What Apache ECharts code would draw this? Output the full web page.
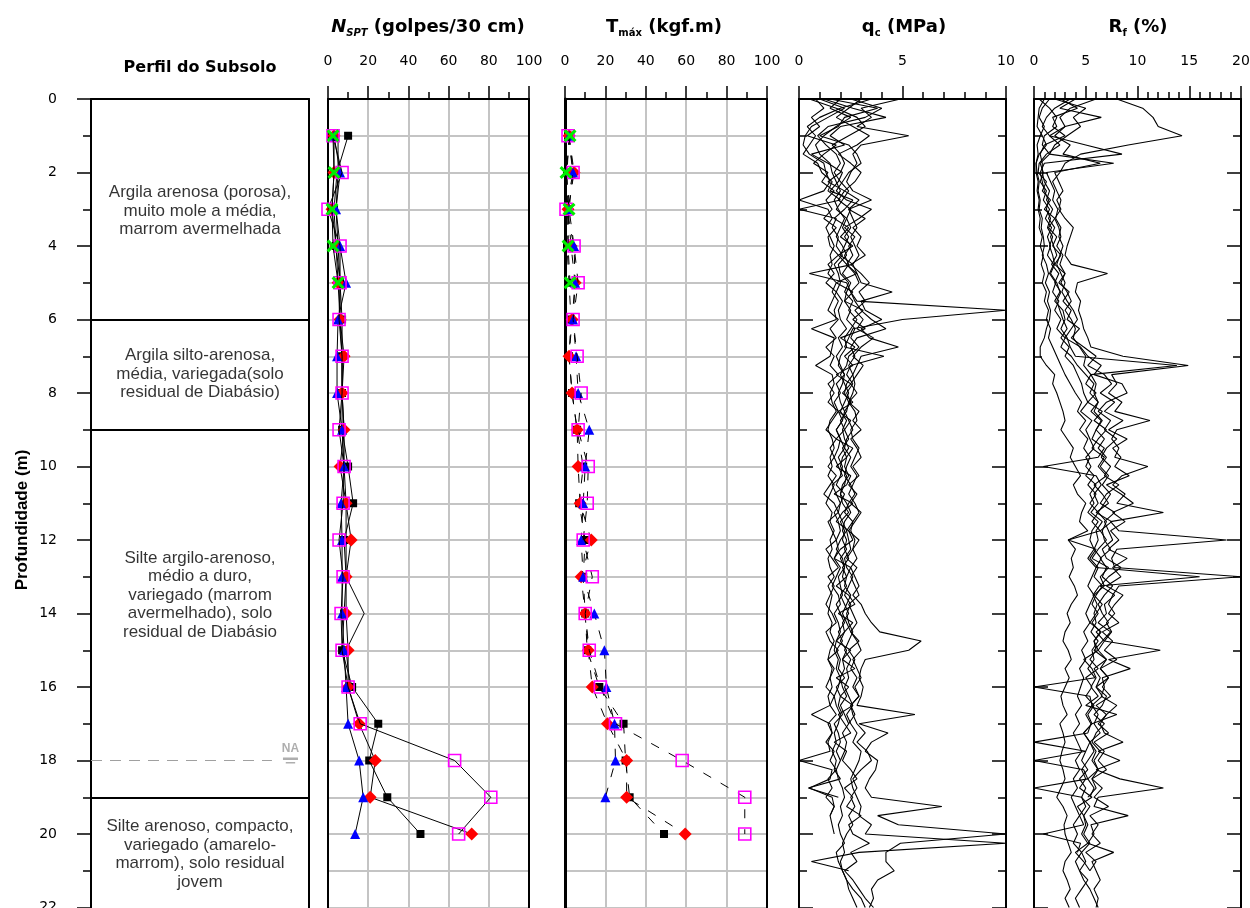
<!DOCTYPE html>
<html><head><meta charset="utf-8">
<script src="https://cdn.jsdelivr.net/npm/echarts@6/dist/echarts.min.js"></script>
<style>html,body{margin:0;padding:0;background:#fff}#c{width:1250px;height:908px}</style>
</head><body><div id="c"></div>
<script>
// ---------------- DATA ----------------
const depthTicks = [0, 2, 4, 6, 8, 10, 12, 14, 16, 18, 20, 22];
const layerBounds = [6, 9, 19];
const layerLabelDepth = [3.05, 7.48, 13.5, 20.55];
const layerNames = [
  'Argila arenosa (porosa),\nmuito mole a média,\nmarrom avermelhada',
  'Argila silto-arenosa,\nmédia, variegada(solo\nresidual de Diabásio)',
  'Silte argilo-arenoso,\nmédio a duro,\nvariegado (marrom\navermelhado), solo\nresidual de Diabásio',
  'Silte arenoso, compacto,\nvariegado (amarelo-\nmarrom), solo residual\njovem'
];
const naDepth = 18;

const depthSPT = [1,2,3,4,5,6,7,8,9,10,11,12,13,14,15,16,17,18,19,20];
// NSPT (golpes/30 cm)
const nsptBlack   = [10, 4.5, 3, 4, 6, 7, 7, 7, 7, 10, 12.5, 8, 9, 8, 7, 12, 25, 20.5, 29.5, 46];
const nsptRed     = [3, 3, 2, 4, 5, 6, 8, 7, 8, 6, 9, 11.5, 9, 9, 10, 10, 15.5, 23.5, 21, 71.5];
const nsptBlue    = [3, 6, 4, 6, 9, 5, 4.5, 4.5, 7, 8, 6.5, 7, 7, 7, 8, 9, 10, 15.5, 17.5, 13.5];
const nsptMagenta = [2.5, 7, 0, 6, 6, 5.5, 7, 7, 5.5, 8, 7.5, 5.5, 7.5, 6.5, 7, 10, 16, 63, 81, 65];
const nsptGreen   = [2.5, 3, 2, 2.5, 5];
const nsptExtra   = [5, 5, 4, 5, 6, 6, 7, 7, 8, 8, 9, 9, 9, 18, 9, 11];
// Tmax (kgf.m)
const tBlack   = [2, 1, 1.5, 1, 2, 3, 2, 3.5, 6, 9, 7, 10, 9, 10, 11, 17, 29, 30, 32, 49];
const tRed     = [2, 4.5, 1.5, 3, 5, 3.5, 2, 3.5, 6, 6.5, 7.5, 13, 8, 10, 11.5, 13.5, 21, 30.5, 30.5, 59.5];
const tBlue    = [2, 4, 2, 4.5, 5, 4, 5.5, 6.5, 12, 10, 9, 8, 9, 14.5, 19.5, 20.5, 24.5, 25, 20];
const tMagenta = [1.5, 4, 0.5, 4.5, 6.5, 4, 6, 8, 6.5, 11.5, 11, 9, 13.5, 10, 12, 17.5, 25, 58, 89, 89];
const tGreen   = [2.5, 0.5, 2, 1.5, 2.5];

const depthCPT = [0,0.25,0.5,0.75,1,1.25,1.5,1.75,2,2.25,2.5,2.75,3,3.25,3.5,3.75,4,4.25,4.5,4.75,5,5.25,5.5,5.75,6,6.25,6.5,6.75,7,7.25,7.5,7.75,8,8.25,8.5,8.75,9,9.25,9.5,9.75,10,10.25,10.5,10.75,11,11.25,11.5,11.75,12,12.25,12.5,12.75,13,13.25,13.5,13.75,14,14.25,14.5,14.75,15,15.25,15.5,15.75,16,16.25,16.5,16.75,17,17.25,17.5,17.75,18,18.25,18.5,18.75,19,19.25,19.5,19.75,20,20.25,20.5,20.75,21,21.25,21.5,21.75,22];
// qc (MPa)
const qc1 = [2.0,1.5,2.5,1.8,1.2,0.8,1.0,1.5, 1.6,1.8,2.0,1.7,1.9,2.2,2.0,1.8, 2.1,2.3,1.9,2.0,2.4,2.2,2.6,2.4, 2.8,2.5,2.2,2.3,2.0,1.9,2.2,2.1,
  1.9,2.0,2.2,2.1,1.8,2.0,2.2,1.9, 2.1,2.0,1.8,2.2,2.0,1.9,2.1,2.3, 2.0,1.8,2.1,2.2,1.9,2.0,2.1,1.8, 2.0,2.2,1.9,2.1,1.8,2.0,1.9,2.2,
  1.8,2.0,1.9,2.1,1.7,1.9,2.0,1.8, 2.0,1.8,1.9,2.1,2.2,2.0,2.1,1.9, 2.0,2.2,1.8,1.9,2.1,2.3,2.4,2.6, 2.8];
const qc2 = [1.0,2.2,1.4,0.6,0.3,0.2,0.5,1.2, 1.3,1.5,1.2,0.0,1.4,1.6,1.3,1.5, 1.7,1.5,1.6,1.4,1.8,1.6,1.9,1.7, 1.8,0.6,1.7,1.6,1.5,0.8,1.6,1.7,
  1.5,1.6,1.8,1.5,1.4,1.6,1.7,1.5, 1.6,1.4,1.7,1.5,1.3,1.6,1.5,1.7, 1.5,1.6,1.4,1.5,1.7,1.4,1.6,1.5, 1.4,1.6,1.5,1.7,1.5,1.4,1.6,1.5,
  1.6,1.4,1.5,0.6,1.5,1.6,1.4,1.5, 0.0,1.6,1.5,0.5,1.6,1.7,1.5,1.6, 1.7];
const qc3 = [4.9,3.0,3.5,2.8,5.3,3.0,2.6,2.8, 2.5,2.3,2.6,3.5,2.4,2.6,2.8,2.5, 2.7,2.9,2.6,2.8,3.0,4.5,3.0,3.2, 4.0,3.0,3.4,4.8,3.0,2.8,2.6,2.7,
  2.6,2.4,2.7,2.8,2.5,2.6,2.9,2.7, 2.5,2.8,2.6,2.4,2.7,2.9,2.6,2.5, 2.7,2.6,2.8,2.5,2.7,2.9,2.6,3.0, 3.2,3.5,3.9,5.9,5.3,3.2,3.0,2.9,
  3.1,3.0,2.8,5.6,2.9,4.3,3.5,3.2, 3.8,3.7,3.4,3.2,3.5,6.9,3.8,4.8, 10.0,4.9,4.2,4.2,4.6,3.8,3.5,3.6, 3.4];
const qc4 = [0.5,1.8,2.8,3.2,2.4,1.6,2.0,2.2, 2.0,1.4,2.2,1.9,2.5,2.3,2.1,2.4, 2.2,2.0,2.6,0.5,2.3,2.5,2.8,10.0, 5.0,2.6,2.4,2.2,4.1,2.5,2.3,2.6,
  2.3,2.5,2.2,2.4,2.6,2.3,2.2,2.5, 2.3,2.2,2.5,2.7,2.4,2.2,2.6,2.3, 2.4,2.5,2.2,2.3,2.6,2.4,2.2,2.5, 2.3,2.4,2.6,2.4,2.2,2.5,2.3,2.4,
  2.2,2.4,2.6,2.3,2.5,2.8,2.6,3.0, 2.9,2.7,2.5,2.6,2.8,3.0,2.9,3.5, 3.2,10.0,2.9,0.6,2.4];
const qc5 = [3.5,2.0,1.0,0.4,0.8,0.5,0.2,0.9, 1.1,1.6,1.4,2.0,0.0,1.8,1.6,1.9, 1.8,2.1,1.7,1.9,2.0,1.8,2.1,1.9, 2.0,2.3,1.9,2.1,1.8,2.0,2.2,1.8,
  2.0,1.7,1.9,2.1,1.8,2.0,1.9,1.7, 1.9,2.1,1.6,1.8,2.0,1.7,1.9,2.0, 1.8,1.9,1.7,2.0,1.8,1.6,1.9,2.0, 1.7,1.9,2.0,1.8,1.7,1.9,1.8,2.0,
  1.9,1.7,1.8,2.0,1.9,1.7,1.8,1.6, 1.8,1.7,2.0,0.45,1.9];
const qc6 = [1.5,3.8,2.2,1.9,1.0,2.4,2.8,3.0, 2.4,2.1,1.8,2.3,3.5,2.9,2.2,2.7, 2.4,2.6,2.3,2.7,2.9,2.5,2.7,3.0, 3.5,4.2,2.8,2.5,2.7,2.4,2.6,2.3,
  2.2,2.4,2.3,2.0,2.2,2.4,2.1,2.3, 2.2,2.4,2.1,2.0,2.3,2.5,2.2,2.1, 2.3,2.2,2.4,2.1,2.3,2.2,2.5,2.3, 2.1,2.3,2.5,2.8,3.0,2.6,2.8,3.0,
  2.7,2.9,2.5,2.6,2.8,3.2,2.8,3.3, 3.5,3.0,2.6,2.8,2.5,2.7,2.4,2.6, 2.3,2.1,2.2,2.0,2.1,2.3,2.6,3.0, 3.2];
const qc7 = [2.5,4.0,3.2,1.4,0.9,1.3,1.8,2.0, 1.7,2.0,2.4,2.1,1.8,2.3,2.5,2.2, 2.5,2.2,2.4,2.1,2.5,2.3,2.2,2.5, 2.3,2.7,2.5,2.9,2.4,2.3,2.0,2.2,
  2.4,2.2,2.0,2.3,2.1,2.2,2.4,2.1, 2.0,2.3,2.2,2.0,2.1,2.4,2.0,2.2, 2.1,2.3,2.0,2.2,2.1,2.3,2.0,2.2, 2.4,2.1,2.2,2.0,2.3,2.1,2.2,2.0,
  2.1,2.3,2.0,2.2,2.4,2.1,2.3,2.2, 2.0];
const qc8 = [1.2,2.6,4.2,2.0,1.5,2.2,0.6,1.4, 2.1,1.9,1.5,2.6,2.2,1.7,2.4,2.0, 2.6,1.9,2.3,2.8,1.8,2.6,2.2,3.1, 2.6,3.2,2.0,2.7,2.2,2.6,1.8,2.5,
  2.1,2.6,1.9,2.5,2.2,1.8,2.6,2.3, 1.8,2.5,2.3,1.7,2.6,2.1,1.8,2.4, 2.6,2.0,1.7,2.5,2.3,1.8,2.4,2.7, 1.9,2.6,2.2,1.8,2.5,2.1,2.7,1.8,
  2.4,2.0,2.6,1.9,2.2,2.5,1.7,2.3, 2.1,2.5,2.8,2.2,2.6,2.3,3.0,2.4, 2.6,3.4,2.5,2.8,2.2,2.6,2.9,3.2, 3.6];
const qc9 = [0.8,1.2,0.6,1.0,0.4,1.8,1.2,0.7, 1.4,1.1,1.7,1.3,1.6,1.2,1.8,1.4, 1.5,1.9,1.4,1.7,1.3,1.8,1.6,1.4, 1.9,1.5,1.8,1.3,1.7,1.5,1.9,1.4,
  1.7,1.4,1.9,1.6,1.3,1.8,1.5,1.7, 1.4,1.8,1.5,1.2,1.7,1.9,1.4,1.6, 1.8,1.3,1.6,1.9,1.4,1.7,1.5,1.3, 1.6,1.8,1.3,1.5,1.9,1.4,1.7,1.5,
  1.3,1.7,1.5,1.8,1.4,1.6,1.3,1.7, 1.5,1.8,1.4,1.6,1.3,1.7,1.5];
const qc10 = [3.0,2.4,1.8,2.6,3.4,2.8,1.9,2.5, 3.0,2.7,2.2,2.9,2.4,3.2,2.6,3.0, 2.8,3.2,2.5,3.0,3.4,2.9,3.2,2.7, 3.1,2.8,3.6,3.0,2.6,3.1,2.8,2.5,
  2.8,2.4,2.9,2.6,3.0,2.5,2.8,3.0, 2.6,2.9,2.4,2.8,2.5,3.0,2.7,2.4, 2.9,2.6,2.3,2.8,2.5,2.7,2.9,2.4, 2.6,2.8,2.5,2.9,2.4,2.7,2.5,2.8,
  2.6,2.9,2.5,2.7,2.4];
// Rf (%)
const rf1 = [8.0,10.5,11.5,12.0,14.3,9.1,4.5,3.0, 2.5,1.8,2.2,2.6,2.4,3.0,3.8,3.5, 3.2,3.0,3.6,7.1,4.2,4.0,4.5,4.3, 4.6,4.8,5.2,5.5,8.6,14.9,7.5,8.0,
  7.2,8.5,7.8,11.2,8.0,7.5,8.2,7.8, 11.0,8.5,7.6,8.8,8.0,12.5,7.4,8.2, 18.6,8.0,7.5,7.8,20.0,8.2,7.6,7.2, 7.8,7.0,7.5,6.8,12.2,7.2,9.3,6.6,
  6.8,6.5,8.0,7.0,6.4,6.8,8.6,6.2, 8.3,6.0,8.3,12.5,6.2,5.8,9.1,5.5, 5.8,5.2,7.7,5.6,6.0,6.4,5.8,6.2, 6.0];
const rf2 = [3.5,2.0,1.2,0.8,1.5,5.0,8.5,1.0, 0.6,0.8,1.0,1.4,1.2,1.6,1.3,1.8, 1.5,1.8,2.0,1.6,2.2,2.5,2.0,2.8, 3.0,2.6,3.2,3.5,4.0,13.8,5.5,6.0,
  5.8,6.2,5.5,6.5,6.0,5.6,6.8,6.2, 0.9,6.0,6.5,5.8,6.2,5.5,6.6,6.0, 6.2,5.8,6.5,6.0,16.0,6.3,5.7,6.1, 5.8,6.0,5.5,6.2,5.6,5.8,5.2,5.9,
  0.0,5.4,5.6,5.0,5.5,5.2,0.0,5.0, 0.0,4.8,5.2,0.0,4.6,5.0,4.4,4.8, 0.9,4.5,4.2];
const rf3 = [1.0,0.5,0.4,0.3,0.8,1.2,0.5,0.2, 0.3,0.5,0.4,0.6,0.5,0.8,0.7,0.9, 1.0,0.8,1.2,1.4,1.1,1.5,1.3,1.6, 1.5,1.2,1.0,0.6,0.6,1.2,2.0,1.8,
  2.2,2.5,2.8,3.0,2.6,3.2,3.8,3.5, 4.0,4.5,3.8,4.2,5.0,4.6,4.4,5.2, 3.3,4.0,3.6,3.8,3.4,3.9,4.2,3.6, 3.2,3.5,3.0,2.8,3.3,3.6,3.0,3.4,
  3.0,2.6,2.8,3.2,2.5,2.8,3.0,2.7, 2.5,2.8,3.0,2.6,2.2,2.8,3.2,2.9, 3.0,3.3,3.6,3.0,2.8,3.2,3.5,3.0, 3.4];
const rf4 = [6.0,3.5,2.5,3.0,2.0,3.5,2.8,6.4, 2.0,2.4,2.8,2.2,2.6,2.0,2.4,2.6, 2.2,2.8,2.5,3.0,2.6,3.2,3.6,3.0, 3.6,4.0,3.8,4.4,5.0,4.8,5.5,5.0,
  6.0,5.2,6.6,5.8,7.0,6.2,5.6,6.8, 6.2,7.0,5.8,6.6,7.2,6.0,7.5,6.4, 7.0,6.2,5.6,7.2,6.4,6.8,5.8,6.6, 6.0,5.4,6.5,5.8,6.2,4.8,5.6,6.0,
  5.5,6.2,5.0,8.0,5.6,4.8,5.4,5.8, 5.2,4.6,5.0,4.4,5.6,4.2,4.8,5.0, 4.6,5.2,4.0,4.8,5.4];
const rf5 = [2.0,5.0,3.8,4.5,3.2,2.0,1.5,7.7, 1.2,1.6,2.0,1.8,2.3,2.1,2.6,2.4, 2.8,2.5,2.2,2.6,3.0,2.7,3.2,3.8, 4.2,3.6,3.0,4.5,5.2,6.5,5.8,8.5,
  9.0,7.0,6.2,7.4,6.8,8.0,7.0,6.5, 7.4,6.8,8.2,7.0,6.4,7.8,6.8,7.2, 7.6,6.6,7.0,8.4,7.2,6.4,7.8,6.8, 7.0,6.2,7.4,6.6,5.8,7.0,6.4,7.2,
  6.0,7.0,6.6,5.8,6.8,6.0,5.6,6.4, 5.8,6.2,5.6,6.0,5.2];
const rf6 = [0.5,1.5,2.2,1.8,3.0,1.0,0.6,0.8, 0.8,1.0,1.5,1.2,1.8,1.4,2.0,1.6, 1.9,2.2,1.7,2.4,2.0,2.6,2.2,2.5, 2.8,3.2,2.6,3.4,3.0,3.8,4.2,4.6,
  4.8,5.2,4.5,5.6,5.0,5.4,5.8,5.0, 5.5,5.0,6.0,5.4,5.8,5.2,6.2,5.6, 5.4,5.8,5.2,6.0,5.6,5.2,5.8,5.4, 5.0,5.4,4.8,5.2,4.6,5.0,4.4,4.8,
  4.5,4.2,4.6,4.0,4.4,3.8,4.2,4.6, 4.0,4.4,3.8,4.2,3.6,4.0,4.4,3.8, 4.2,3.8,4.6,4.0,4.4,4.8,5.4,5.8, 6.2];
const rf7 = [4.0,2.5,6.5,3.0,1.5,2.5,1.2,0.5, 0.4,1.2,0.8,1.6,1.0,2.0,1.4,2.2, 1.8,2.6,2.0,3.0,2.4,3.4,2.8,3.6, 3.2,4.4,3.6,4.8,6.0,5.2,6.8,7.5,
  6.4,7.8,6.8,8.6,7.2,9.0,7.6,8.4, 7.8,9.2,7.0,8.4,9.6,7.6,8.8,7.4, 8.2,7.2,9.0,7.6,8.4,7.0,8.6,7.8, 7.2,8.2,6.6,7.6,6.8,8.0,6.4,7.2,
  6.6,7.4,6.0,7.0,6.2,7.2,5.8,6.8, 6.2,7.0,5.6,6.6,5.8,7.2,5.4,6.2, 5.6,6.4,5.0,6.0,5.4];
const rf8 = [1.5,0.8,0.5,1.0,0.6,0.3,0.4,0.2, 0.2,0.4,0.3,0.5,0.4,0.6,0.5,0.8, 0.6,0.9,0.7,1.0,0.8,1.2,1.0,1.4, 1.2,1.6,1.4,1.8,2.2,2.6,3.0,3.5,
  4.0,4.6,4.2,5.0,4.4,5.2,4.8,5.4, 5.0,5.8,5.2,6.0,5.4,6.2,5.6,6.4, 3.3,6.0,5.4,6.2,5.8,6.6,6.0,5.6, 6.2,5.6,6.4,5.8,6.0,5.4,6.2,5.0,
  5.6,5.0,5.8,5.2,5.6,4.8,5.4,5.0, 4.6,5.2,4.4,5.0,4.6,5.4,4.8,5.2, 4.8,5.4,4.6,5.0,4.4,5.2,4.6,4.0, 4.4];
const rf9 = [2.6,4.2,1.8,2.2,1.0,0.8,1.5,0.6, 0.9,0.6,1.2,0.9,1.5,1.1,1.7,1.3, 1.6,1.3,1.9,1.5,2.1,1.8,2.4,2.0, 2.6,2.2,3.0,2.6,3.6,4.2,5.0,5.8,
  5.4,6.2,5.8,6.6,6.0,6.8,6.2,7.0, 6.4,7.2,6.6,7.4,6.8,6.2,7.0,6.6, 6.8,7.4,6.4,7.0,6.6,7.6,6.8,6.2, 6.6,7.2,6.0,6.8,6.2,7.0,5.8,6.4,
  6.0,6.6,5.6,6.2,5.8,6.4,5.4,6.0, 5.6,6.2,5.2,5.8,5.4];

// ---------------- CHART ----------------
const chart = echarts.init(document.getElementById('c'), null, {renderer: 'canvas', width: 1250, height: 908});
const FONT = 'Liberation Sans, Arial, sans-serif';
const DJ = 'DejaVu Sans, sans-serif';
const TICKFONT = {fontFamily: 'DejaVu Sans', fontSize: 14, color: '#000'};
const GH = 808.5;
const grids = [
  {left: 91, top: 99, width: 218, height: GH},
  {left: 328, top: 99, width: 201, height: GH},
  {left: 565, top: 99, width: 202, height: GH},
  {left: 799, top: 99, width: 207, height: GH},
  {left: 1034, top: 99, width: 207, height: GH}
].map(g => Object.assign(g, {containLabel: false, outerBoundsMode: 'none'}));

function topAxis(gi, max, interval, minorSplit, showGrid) {
  return {
    type: 'value', gridIndex: gi, position: 'top', min: 0, max: max, interval: interval,
    axisLine: {show: true, onZero: false, lineStyle: {color: '#000', width: 2}},
    axisTick: {show: true, length: 13, lineStyle: {color: '#000', width: 1.5}},
    minorTick: {show: true, splitNumber: minorSplit, length: 7, lineStyle: {color: '#000', width: 1.5}},
    axisLabel: Object.assign({show: true, margin: 31}, TICKFONT),
    splitLine: {show: showGrid, lineStyle: {color: '#c4c4c4', width: 2}},
    minorSplitLine: {show: false}
  };
}
const xAxis = [
  {type: 'value', gridIndex: 0, position: 'top', min: 0, max: 1,
   axisLine: {show: true, onZero: false, lineStyle: {color: '#000', width: 2}},
   axisTick: {show: false}, axisLabel: {show: false}, splitLine: {show: false}},
  topAxis(1, 100, 20, 2, true),
  topAxis(2, 100, 20, 2, true),
  topAxis(3, 10, 5, 5, false),
  topAxis(4, 20, 5, 5, false)
];
function borderAxis(gi, pos, w, grid) {
  return {type: 'value', gridIndex: gi, position: pos, inverse: true, min: 0, max: 22, interval: 1,
    axisLine: {show: true, onZero: false, lineStyle: {color: '#000', width: w}},
    axisTick: {show: false}, axisLabel: {show: false},
    splitLine: {show: !!grid, lineStyle: {color: '#c4c4c4', width: 2}}};
}
function tickAxis(gi, pos) {
  return {type: 'value', gridIndex: gi, position: pos, inverse: true, min: 0, max: 22, interval: 2,
    axisLine: {show: true, onZero: false, lineStyle: {color: '#000', width: 2}},
    axisTick: {show: true, inside: true, length: 14, lineStyle: {color: '#000', width: 1.5}},
    minorTick: {show: true, splitNumber: 2, length: 8, lineStyle: {color: '#000', width: 1.5}},
    axisLabel: {show: false}, splitLine: {show: false}};
}
const yAxis = [
  {type: 'value', gridIndex: 0, position: 'left', inverse: true, min: 0, max: 22, interval: 2,
   axisLine: {show: true, onZero: false, lineStyle: {color: '#000', width: 2}},
   axisTick: {show: true, length: 14, lineStyle: {color: '#000', width: 1.5}},
   minorTick: {show: true, splitNumber: 2, length: 8, lineStyle: {color: '#000', width: 1.5}},
   axisLabel: Object.assign({margin: 34, customValues: depthTicks}, TICKFONT),
   splitLine: {show: false}},
  borderAxis(0, 'right', 2, false),
  borderAxis(1, 'left', 2, true),
  borderAxis(1, 'right', 2, false),
  borderAxis(2, 'left', 3, true),
  borderAxis(2, 'right', 2, false),
  tickAxis(3, 'left'), tickAxis(3, 'right'),
  tickAxis(4, 'left'), tickAxis(4, 'right')
];

const MK = {
  black: {symbol: 'rect', symbolSize: 8, itemStyle: {color: '#000'}},
  red: {symbol: 'diamond', symbolSize: 13, itemStyle: {color: '#ff0000'}},
  blue: {symbol: 'triangle', symbolSize: 10, itemStyle: {color: '#0000ff'}},
  mag: {symbol: 'rect', symbolSize: 12, itemStyle: {color: 'rgba(255,255,255,0)', borderColor: '#ff00ff', borderWidth: 1.6}},
  green: {symbol: 'path://M0,2 L2,0 L6,4 L10,0 L12,2 L8,6 L12,10 L10,12 L6,8 L2,12 L0,10 L4,6 Z', symbolSize: 13, itemStyle: {color: '#00ee00'}},
  none: {symbol: 'none', showSymbol: false}
};
function pairs(vals, depths) { return vals.map((v, i) => [v, depths[i]]); }
function sptSeries(vals, mk, gi, yi, dashed, z) {
  return Object.assign({
    type: 'line', xAxisIndex: gi, yAxisIndex: yi, data: pairs(vals, depthSPT),
    lineStyle: {color: '#000', width: 1, type: dashed ? [9, 11] : 'solid'},
    silent: true, animation: false, z: z
  }, mk);
}
function cptSeries(vals, gi, yi) {
  return {type: 'line', xAxisIndex: gi, yAxisIndex: yi, data: pairs(vals, depthCPT),
    symbol: 'none', showSymbol: false, lineStyle: {color: '#000', width: 1.1}, silent: true, animation: false, z: 2};
}

const series = [
  // profile
  {type: 'scatter', xAxisIndex: 0, yAxisIndex: 0, symbolSize: 1, itemStyle: {color: 'rgba(0,0,0,0)'},
   data: layerLabelDepth.map(d => [0.5, d]), silent: true,
   label: {show: true, position: 'inside', formatter: p => layerNames[p.dataIndex],
     fontFamily: FONT, fontSize: 17, lineHeight: 18.5, color: '#000', align: 'center'},
   markLine: {silent: true, symbol: 'none', label: {show: false},
     lineStyle: {color: '#000', width: 2, type: 'solid'},
     data: layerBounds.map(b => ({yAxis: b}))}},
  {type: 'line', xAxisIndex: 0, yAxisIndex: 0, data: [[0, naDepth], [0.83, naDepth]], symbol: 'none',
   lineStyle: {color: '#a0a0a0', width: 1, type: [11, 8]}, silent: true},
  {type: 'scatter', xAxisIndex: 0, yAxisIndex: 0, data: [[0.915, naDepth]], silent: true,
   symbol: 'path://M0,0 L16,0 L16,2.5 L0,2.5 Z M3,4.5 L13,4.5 L13,6 L3,6 Z', symbolSize: [15, 6],
   itemStyle: {color: '#9a9a9a'},
   label: {show: true, position: 'top', distance: 3, formatter: 'NA', fontFamily: FONT, fontSize: 12,
     fontWeight: 'bold', color: '#9a9a9a'}},
  // NSPT
  sptSeries(nsptExtra, MK.none, 1, 2, false, 3),
  sptSeries(nsptBlack, MK.black, 1, 2, false, 4),
  sptSeries(nsptRed, MK.red, 1, 2, false, 5),
  sptSeries(nsptBlue, MK.blue, 1, 2, false, 6),
  sptSeries(nsptMagenta, MK.mag, 1, 2, false, 7),
  sptSeries(nsptGreen, MK.green, 1, 2, false, 8),
  // Tmax
  sptSeries(tBlack, MK.black, 2, 4, true, 4),
  sptSeries(tRed, MK.red, 2, 4, true, 5),
  sptSeries(tBlue, MK.blue, 2, 4, true, 6),
  sptSeries(tMagenta, MK.mag, 2, 4, true, 7),
  sptSeries(tGreen, MK.green, 2, 4, true, 8)
];
[qc1, qc2, qc3, qc4, qc5, qc6, qc7, qc8, qc9, qc10].forEach(q => series.push(cptSeries(q, 3, 6)));
[rf1, rf2, rf3, rf4, rf5, rf6, rf7, rf8, rf9].forEach(r => series.push(cptSeries(r, 4, 8)));

const TB = {fontFamily: DJ, fontSize: 18, fontWeight: 'bold', color: '#000', lineHeight: 22};
const SUB = {fontFamily: DJ, fontSize: 10, color: '#000', lineHeight: 11, verticalAlign: 'bottom'};
function ttl(text, x, rich) {
  return {text: text, left: x, top: 16, textAlign: 'center', padding: 0,
    textStyle: {rich: rich}};
}
const option = {
  animation: false,
  backgroundColor: '#fff',
  grid: grids, xAxis: xAxis, yAxis: yAxis, series: series,
  title: [
    {text: 'Perfil do Subsolo', left: 200, top: 59, textAlign: 'center', padding: 0,
     textStyle: {fontFamily: DJ, fontSize: 16, fontWeight: 'bold', color: '#000', lineHeight: 18}},
    ttl('{n|N}{s|SPT}{b| (golpes/30 cm)}', 428, {
      n: Object.assign({}, TB, {fontStyle: 'italic'}),
      s: Object.assign({}, SUB, {fontStyle: 'italic'}),
      b: TB}),
    ttl('{b|T}{s|máx}{b| (kgf.m)}', 664, {b: TB, s: SUB}),
    ttl('{b|q}{s|c}{b| (MPa)}', 904, {b: TB, s: Object.assign({}, SUB, {fontWeight: 'bold'})}),
    ttl('{b|R}{s|f}{b| (%)}', 1138, {b: TB, s: Object.assign({}, SUB, {fontWeight: 'bold'})})
  ],
  graphic: [{
    type: 'text', x: 22, y: 520, rotation: Math.PI / 2, silent: true,
    style: {text: 'Profundidade (m)', fontFamily: FONT, fontSize: 17, fontWeight: 'bold', fill: '#000',
      align: 'center', verticalAlign: 'middle', textAlign: 'center', textVerticalAlign: 'middle'}
  }]
};
chart.setOption(option);
</script>
</body></html>
